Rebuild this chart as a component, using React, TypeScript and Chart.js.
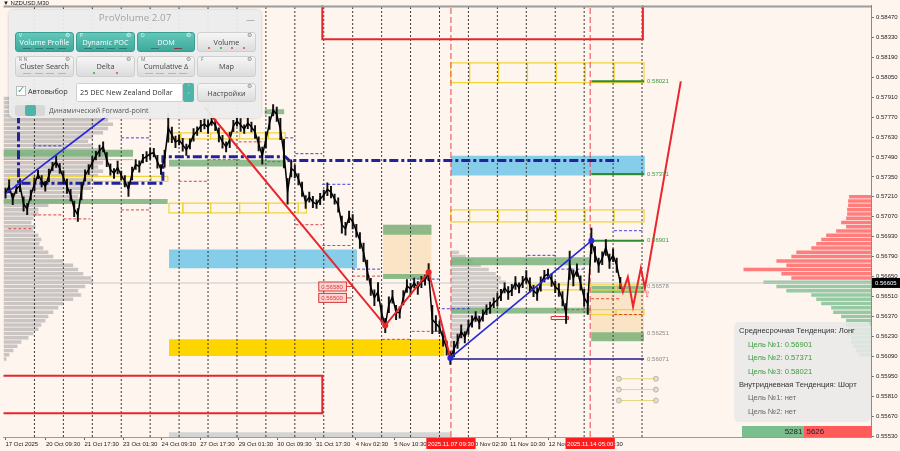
import React, { useEffect, useRef } from "react";
import { Chart, registerables } from "chart.js";

Chart.register(...registerables);

const BG = "#FEF5EF";
const AXIS_FONT = '"Liberation Sans", Arial, sans-serif';
const UI_FONT = '"Open Sans", "Noto Sans", sans-serif';

// ---------- scales ----------
const PRICE_MIN = 0.55523;
const PRICE_MAX = 0.58553;
const DAY_MIN = -0.069; // trading days since 17 Oct 2025 00:00
const DAY_MAX = 29.914;

const yTickValues = [0.5847, 0.5833, 0.5819, 0.5805, 0.5791, 0.5777, 0.5763, 0.5749, 0.5735, 0.5721, 0.5707,
  0.5693, 0.5679, 0.5665, 0.5651, 0.5637, 0.5623, 0.5609, 0.5595, 0.5581, 0.5567, 0.5553];
const xTickDays = [0, 1.396, 2.729, 4.0625, 5.396, 6.729, 8.0625, 9.396, 10.729, 12.104, 13.4375, 14.771, 16.104, 17.4375, 18.771, 20.104];
const xTickLabels = ["17 Oct 2025", "20 Oct 09:30", "21 Oct 17:30", "23 Oct 01:30", "24 Oct 09:30", "27 Oct 17:30",
  "29 Oct 01:30", "30 Oct 09:30", "31 Oct 17:30", "4 Nov 02:30", "5 Nov 10:30", "6 Nov 18:30", "10 Nov 02:30",
  "11 Nov 10:30", "12 Nov 18:30", "14 Nov 02:30"];
const daySeparators = [1, 2, 3, 4, 5, 6, 7, 8, 9, 10, 11, 12, 13, 14, 15, 16, 17, 18, 19, 20, 21, 22];
const markerDays = [15.396, 20.208];
const markerLabels = ["2025.11.07 09:30", "2025.11.14 05:00"];

// ---------- price (3-hour samples) ----------
const PRICE_STEP_DAYS = 0.125;
const closes = [
  0.57236, 0.57284, 0.57194, 0.57263, 0.57291, 0.57159, 0.57125, 0.57222, 0.57298, 0.57367,
  0.57319, 0.57284, 0.57360, 0.57423, 0.57457, 0.57409, 0.57347, 0.57284, 0.57222, 0.57125,
  0.57083, 0.57249, 0.57360, 0.57402, 0.57450, 0.57499, 0.57534, 0.57561, 0.57471, 0.57402,
  0.57374, 0.57416, 0.57360, 0.57319, 0.57263, 0.57374, 0.57437, 0.57423, 0.57478, 0.57492,
  0.57513, 0.57520, 0.57457, 0.57402, 0.57478, 0.57693, 0.57645, 0.57596, 0.57610, 0.57575,
  0.57541, 0.57582, 0.57645, 0.57672, 0.57707, 0.57721, 0.57700, 0.57742, 0.57714, 0.57645,
  0.57596, 0.57561, 0.57610, 0.57707, 0.57742, 0.57714, 0.57686, 0.57728, 0.57700, 0.57665,
  0.57582, 0.57499, 0.57610, 0.57728, 0.57818, 0.57790, 0.57686, 0.57513, 0.57249, 0.57409,
  0.57388, 0.57333, 0.57263, 0.57173, 0.57208, 0.57173, 0.57159, 0.57194, 0.57222, 0.57263,
  0.57243, 0.57194, 0.57152, 0.57014, 0.56986, 0.57069, 0.57035, 0.56972, 0.56903, 0.56820,
  0.56695, 0.56577, 0.56501, 0.56542, 0.56390, 0.56306, 0.56452, 0.56508, 0.56397, 0.56397,
  0.56501, 0.56584, 0.56563, 0.56605, 0.56570, 0.56612, 0.56625, 0.56681, 0.56348, 0.56320,
  0.56293, 0.56216, 0.56147, 0.56078, 0.56140, 0.56195, 0.56265, 0.56223, 0.56293, 0.56334,
  0.56369, 0.56327, 0.56376, 0.56417, 0.56431, 0.56466, 0.56487, 0.56521, 0.56570, 0.56535,
  0.56556, 0.56605, 0.56570, 0.56612, 0.56646, 0.56591, 0.56549, 0.56528, 0.56598, 0.56653,
  0.56667, 0.56625, 0.56577, 0.56556, 0.56494, 0.56390, 0.56729, 0.56639, 0.56695, 0.56605,
  0.56501, 0.56459, 0.56901, 0.56806, 0.56729, 0.56778, 0.56854, 0.56757, 0.56799, 0.56729,
  0.56605,
];
// high-low range of each 3-hour sample, in points (1e-5)
const rangesPts = [
  70, 90, 80, 60, 90, 100, 80, 70, 90, 60, 80, 70, 90, 60, 80, 70, 90, 100, 80, 110,
  90, 120, 80, 70, 90, 60, 80, 70, 100, 80, 70, 90, 60, 80, 100, 90, 70, 80, 60, 70,
  80, 60, 90, 70, 120, 200, 110, 80, 70, 90, 80, 70, 90, 60, 80, 70, 90, 60, 80, 100,
  90, 70, 110, 80, 70, 90, 60, 80, 70, 90, 100, 120, 110, 90, 80, 100, 150, 200, 180, 120,
  90, 80, 100, 90, 70, 80, 60, 80, 70, 90, 80, 70, 100, 120, 90, 80, 100, 90, 110, 130,
  140, 120, 110, 130, 120, 100, 110, 90, 100, 80, 100, 90, 80, 70, 90, 80, 70, 120, 200, 110,
  90, 110, 100, 90, 110, 100, 90, 80, 100, 80, 70, 90, 80, 70, 80, 70, 90, 80, 70, 90,
  80, 90, 70, 80, 90, 100, 80, 90, 100, 80, 70, 90, 80, 90, 100, 140, 200, 110, 90, 100,
  120, 150, 180, 110, 100, 90, 110, 100, 90, 100, 80,
];
const CURRENT_PRICE = 0.56605;

// ---------- drawn lines ----------
const projDays = [21.25, 21.34, 21.51, 21.69, 21.96, 22.1, 23.34];
const projPrices = [0.56605, 0.56542, 0.56646, 0.56438, 0.56709, 0.5657, 0.58021];
const zigzagDays = [6.88, 13.125, 14.625, 15.375];
const zigzagPrices = [0.57839, 0.56306, 0.56681, 0.56078];
const trendLeftDays = [0.03, 3.72];
const trendLeftPrices = [0.57236, 0.57811];
const trendRightDays = [15.375, 20.25];
const trendRightPrices = [0.56078, 0.56901];
const pocDays = [0.45, 0.45, 5.44, 5.44, 9.67, 9.81, 21.2];
const pocPrices = [0.5779, 0.57305, 0.57305, 0.57492, 0.57492, 0.57465, 0.57465];
const targetPrices = [0.58021, 0.57371, 0.56901];
const TARGET_START_DAY = 20.25;
const LEVEL_END_DAY = 22.07;
const grayLevelPrices = [0.56578, 0.56251, 0.56071];
const navyLevel = [15.39, 22.07, 0.56071];
const boxedPrices = [0.5658, 0.565];
const BOXED_DAY = 10.81;
const BOXED_END_DAY = 11.98;
const targetMarkDays = [21.2, 22.48];
const targetMarkPrices = [0.55932, 0.55856, 0.55779];
const pinkLevel = [-0.2, 4.41, 0.57471];

// [startDay, endDay, price]
const blueLevels = [
  [3.99, 4.99, 0.57624], [0.96, 1.93, 0.57568], [9.67, 10.02, 0.57624], [10.02, 10.95, 0.57513],
  [10.95, 11.98, 0.57298], [11.98, 13.01, 0.56702], [14.04, 15.08, 0.56632], [15.08, 16.11, 0.56424],
  [18.04, 19.04, 0.56799], [19.04, 20.07, 0.56702], [21.03, 22.07, 0.56972],
];
const redLevels = [
  [5.99, 6.99, 0.57319], [8.06, 9.05, 0.57596], [0.96, 1.93, 0.57083], [2.0, 2.93, 0.57055],
  [0.1, 0.96, 0.56986], [3.99, 4.99, 0.57118], [6.99, 8.09, 0.57471], [9.05, 10.02, 0.57457],
  [10.02, 10.95, 0.57014], [10.95, 11.98, 0.56868], [11.98, 13.01, 0.56653], [13.01, 14.04, 0.56209],
  [14.04, 15.08, 0.56265], [19.04, 20.07, 0.56417], [20.24, 21.27, 0.56494], [21.03, 22.07, 0.56383],
];

// ---------- zones: [startDay, endDay, topPrice, bottomPrice] ----------
const skyZones = [[5.65, 12.15, 0.5684, 0.56709], [15.39, 22.1, 0.57499, 0.5736]];
const goldZones = [[5.65, 15.18, 0.56209, 0.56092]];
const wheatZones = [[13.05, 14.73, 0.57014, 0.56639], [20.24, 22.07, 0.56556, 0.56209]];
const greenZones = [
  [-0.2, 4.41, 0.57541, 0.57492], [-0.2, 5.61, 0.57194, 0.57159], [5.65, 9.67, 0.57471, 0.57423],
  [8.95, 9.64, 0.57825, 0.5779], [13.05, 14.73, 0.57014, 0.56944], [13.05, 14.73, 0.56667, 0.56632],
  [15.39, 20.24, 0.56785, 0.56729], [15.39, 20.24, 0.56431, 0.5639], [20.24, 22.07, 0.56584, 0.56535],
  [20.24, 22.07, 0.56258, 0.56195],
];
const grayZones = [[5.65, 15.39, 0.55557, 0.55523]];
const redBoxes = [[10.95, 22.03, 0.587, 0.58317], [-0.5, 10.95, 0.55953, 0.55689], [18.86, 19.45, 0.56369, 0.56348]];
// yellow box rows: top, bottom, edges (days)
const yellowRowTops = [0.57354, 0.57659, 0.57166, 0.58151, 0.57118, 0.56591, 0.56417];
const yellowRowBottoms = [0.57319, 0.57617, 0.57097, 0.58012, 0.57034, 0.56556, 0.56383];
const yellowRowEdges = [
  [0.1, 0.96, 2.0, 2.99, 3.99, 5.03, 5.61],
  [5.65, 6.06, 7.09, 8.09, 9.09, 9.67],
  [5.65, 6.13, 7.09, 8.09, 9.09, 10.12, 10.4],
  [15.39, 16.04, 17.04, 18.04, 19.04, 20.03, 21.03, 22.07],
  [15.39, 16.04, 17.04, 18.04, 19.04, 20.03, 21.03, 22.07],
  [18.04, 19.04, 20.24, 21.1, 22.07],
  [20.24, 21.1, 22.07],
];

// ---------- volume profiles (bins of 0.0003) ----------
const BIN = 0.0003;
const leftProfileTop = 0.579;
const leftProfileVol = [15, 30, 50, 70, 95, 105, 110, 105, 100, 90, 85, 90, 95, 100, 105, 100, 95, 100, 95, 90,
  85, 88, 80, 75, 70, 45, 35, 35, 30, 28, 32, 30, 35, 38, 36, 40, 45, 50, 60, 70,
  75, 80, 88, 90, 82, 75, 78, 70, 60, 55, 50, 45, 42, 38, 35, 30, 25, 18, 14, 10, 6, 3];
const rightRedTop = 0.5721;
const rightRedVol = [22, 23, 23, 24, 24, 25, 30, 25, 35, 45, 50, 55, 60, 75, 80, 95, 85, 128, 90, 80];
const rightGreenTop = 0.5661;
const rightGreenVol = [108, 95, 85, 60, 55, 50, 40, 38, 30, 25, 25, 22, 24, 20, 20, 18, 15, 12];
const sessionStartDay = 15.396;
const sessionProfileTop = 0.5682;
const sessionProfileVol = [8, 15, 22, 30, 38, 45, 50, 55, 48, 52, 45, 42, 40, 35, 32, 28, 25, 22, 18, 15, 12, 9, 6, 4, 2];
const SESSION_VOL_TO_DAYS = 1 / 29.05;
const PROFILE_AXIS_MAX = 871;

// ---------- panel data ----------
const midTargets = [0.56901, 0.57371, 0.58021];
const buyVolume = 5281;
const sellVolume = 5626;

const r5 = (v: number) => Math.round(v * 1e5) / 1e5;

function buildDatasets() {
  const ds: any[] = [];
  const base = { pointRadius: 0, pointHoverRadius: 0, tension: 0, xAxisID: "x", yAxisID: "y" };
  const zone = (z: number[], color: string, order: number) =>
    ds.push({ ...base, type: "line", data: [{ x: z[0], y: z[2] }, { x: z[1], y: z[2] }], borderWidth: 0,
      borderColor: "rgba(0,0,0,0)", backgroundColor: color, fill: { value: z[3] }, order });
  const box = (z: number[], color: string, width: number, order: number) =>
    ds.push({ ...base, type: "line", data: [{ x: z[0], y: z[2] }, { x: z[1], y: z[2] }, { x: z[1], y: z[3] },
      { x: z[0], y: z[3] }, { x: z[0], y: z[2] }], borderColor: color, borderWidth: width, fill: false, order });
  const seg = (x0: number, x1: number, p: number, color: string, width: number, dash: number[], order: number) =>
    ds.push({ ...base, type: "line", data: [{ x: x0, y: p }, { x: x1, y: p }], borderColor: color,
      borderWidth: width, borderDash: dash, fill: false, order });
  const path = (xs: number[], ys: number[], color: string, width: number, dash: number[], order: number) =>
    ds.push({ ...base, type: "line", data: xs.map((x, i) => ({ x, y: ys[i] })), borderColor: color,
      borderWidth: width, borderDash: dash, fill: false, order });
  const dots = (xs: number[], ys: number[], color: string, r: number, order: number) =>
    ds.push({ ...base, type: "line", showLine: false, data: xs.map((x, i) => ({ x, y: ys[i] })), pointRadius: r,
      pointBackgroundColor: color, pointBorderWidth: 0, order });
  const profile = (top: number, vols: number[], axis: string, color: string, order: number, start = 0, k = 1) =>
    ds.push({ type: "bar", indexAxis: "y", xAxisID: axis, yAxisID: "y", grouped: false,
      categoryPercentage: 1, barPercentage: 0.82, borderWidth: 0, backgroundColor: color, order,
      data: vols.map((v, i) => ({ x: [start, start + v * k], y: r5(top - i * BIN) })) });

  // background zones
  skyZones.forEach((z) => zone(z, "#86CDEA", 100));
  goldZones.forEach((z) => zone(z, "#FFD500", 100));
  wheatZones.forEach((z) => zone(z, "#FBE4C6", 100));
  grayZones.forEach((z) => zone(z, "#D4D4D4", 100));
  // profiles
  profile(leftProfileTop, leftProfileVol, "xPL", "rgba(150,150,150,0.5)", 96);
  profile(rightRedTop, rightRedVol, "xPR", "rgba(255,105,105,0.85)", 96);
  profile(rightGreenTop, rightGreenVol, "xPR", "rgba(125,190,145,0.8)", 96);
  profile(sessionProfileTop, sessionProfileVol, "x", "rgba(150,150,150,0.45)", 96, sessionStartDay, SESSION_VOL_TO_DAYS);
  // green zones
  greenZones.forEach((z) => zone(z, "rgba(122,178,122,0.85)", 90));
  // yellow boxes
  yellowRowEdges.forEach((edges, r) => {
    for (let i = 0; i < edges.length - 1; i++)
      box([edges[i], edges[i + 1], yellowRowTops[r], yellowRowBottoms[r]], "#F0D53A", 1.2, 85);
  });
  // day separators and marker verticals
  daySeparators.forEach((d) => path([d, d], [PRICE_MIN, PRICE_MAX], "#3a3a3a", 1, [2, 2], 80));
  markerDays.forEach((d) => path([d, d], [PRICE_MIN, PRICE_MAX], "#E8474A", 1, [6, 3], 80));
  // small level dashes
  blueLevels.forEach((l) => seg(l[0], l[1], l[2], "#4040E0", 1, [3, 2], 75));
  redLevels.forEach((l) => seg(l[0], l[1], l[2], "#DD4444", 1, [3, 2], 75));
  seg(pinkLevel[0], pinkLevel[1], pinkLevel[2], "rgba(240,120,120,0.7)", 1, [], 75);
  seg(DAY_MIN, DAY_MAX, CURRENT_PRICE, "#C9C9C9", 1, [], 76);
  // red boxes
  redBoxes.forEach((b, i) => box(b, "#E5262B", i < 2 ? 2 : 1, 70));
  // navy & target lines
  seg(navyLevel[0], navyLevel[1], navyLevel[2], "#1B1B8A", 1.3, [], 70);
  targetPrices.forEach((p) => seg(TARGET_START_DAY, LEVEL_END_DAY, p, "#2E8B2E", 2, [], 70));
  // target marks
  targetMarkPrices.forEach((p) => {
    seg(targetMarkDays[0], targetMarkDays[1], p, "rgba(225,210,110,0.9)", 1, [], 70);
    ds.push({ ...base, type: "line", showLine: false, data: targetMarkDays.map((x) => ({ x, y: p })), pointRadius: 2.5,
      pointBackgroundColor: "rgba(215,215,200,0.7)", pointBorderColor: "#b8b8a0", pointBorderWidth: 1, order: 69 });
  });
  // POC dash-dot
  path(pocDays, pocPrices, "#22229A", 3, [9, 3, 3, 3], 60);
  // price: high-low wicks + close line
  ds.push({ type: "bar", xAxisID: "x", yAxisID: "yW", grouped: false, barThickness: 1.3, borderWidth: 0,
    backgroundColor: "#111", order: 51,
    data: closes.map((c, i) => ({ x: i * PRICE_STEP_DAYS, y: [c - rangesPts[i] / 2e5, c + rangesPts[i] / 2e5] })) });
  ds.push({ ...base, type: "line", data: closes.map((c, i) => ({ x: i * PRICE_STEP_DAYS, y: c })),
    borderColor: "#000000", borderWidth: 1.5, fill: false, order: 50 });
  // trend lines / zigzag
  path(trendLeftDays, trendLeftPrices, "#2828D8", 1.6, [], 40);
  path(trendRightDays, trendRightPrices, "#2828D8", 1.6, [], 40);
  path(zigzagDays, zigzagPrices, "#E8262B", 2, [], 40);
  path(projDays, projPrices, "#E8262B", 2, [], 40);
  dots(zigzagDays.slice(1, 3), zigzagPrices.slice(1, 3), "#E8262B", 3, 39);
  dots(trendRightDays, trendRightPrices, "#2828D8", 3, 39);
  return ds;
}

const overlayPlugin = {
  id: "overlay",
  afterDraw(chart: any) {
    const { ctx, chartArea } = chart;
    const X = chart.scales.x;
    const Y = chart.scales.y;
    ctx.save();
    // top frame
    ctx.strokeStyle = "#9c9c9c";
    ctx.lineWidth = 2;
    ctx.beginPath();
    ctx.moveTo(chartArea.left, chartArea.top + 1);
    ctx.lineTo(chartArea.right, chartArea.top + 1);
    ctx.stroke();
    ctx.font = `6px ${AXIS_FONT}`;
    ctx.textBaseline = "middle";
    ctx.textAlign = "left";
    // level labels
    const lx = X.getPixelForValue(LEVEL_END_DAY) + 3;
    targetPrices.forEach((p) => { ctx.fillStyle = "#3C9A3C"; ctx.fillText(p.toFixed(5), lx, Y.getPixelForValue(p)); });
    grayLevelPrices.forEach((p) => { ctx.fillStyle = "#8a8a8a"; ctx.fillText(p.toFixed(5), lx, Y.getPixelForValue(p)); });
    // boxed price labels
    boxedPrices.forEach((p) => {
      const x0 = X.getPixelForValue(BOXED_DAY);
      const y = Y.getPixelForValue(p);
      const t = p.toFixed(5);
      const w = ctx.measureText(t).width + 6;
      ctx.fillStyle = "rgba(255,205,205,0.85)";
      ctx.fillRect(x0, y - 4.5, w, 9);
      ctx.strokeStyle = "#D23C3C";
      ctx.lineWidth = 1;
      ctx.strokeRect(x0 + 0.5, y - 4.5, w, 9);
      ctx.beginPath();
      ctx.moveTo(x0 + w, y);
      ctx.lineTo(X.getPixelForValue(BOXED_END_DAY), y);
      ctx.stroke();
      ctx.fillStyle = "#D23C3C";
      ctx.fillText(t, x0 + 3, y + 0.5);
    });
    // up arrow near projection
    ctx.fillStyle = "#E8474A";
    ctx.font = `9px "DejaVu Sans"`;
    ctx.fillText("⇧", X.getPixelForValue(22.05), Y.getPixelForValue(0.5652));
    // current price tag
    ctx.font = `6px ${AXIS_FONT}`;
    const cy = Y.getPixelForValue(CURRENT_PRICE);
    ctx.fillStyle = "#000";
    ctx.fillRect(chartArea.right + 1, cy - 5, 28, 10);
    ctx.fillStyle = "#fff";
    ctx.fillText(CURRENT_PRICE.toFixed(5), chartArea.right + 4, cy + 0.5);
    // red date markers on the time axis
    ctx.textAlign = "center";
    markerDays.forEach((d, i) => {
      const px = X.getPixelForValue(d);
      const w = ctx.measureText(markerLabels[i]).width + 3;
      ctx.fillStyle = "#FF1C1C";
      ctx.fillRect(px - w / 2, chartArea.bottom + 1, w, 11);
      ctx.fillStyle = "#fff";
      ctx.fillText(markerLabels[i], px, chartArea.bottom + 7);
    });
    ctx.restore();
  },
};

function PvButton({ b, left, top, w, h }: any) {
  const a = b.active;
  return (
    <div style={{ position: "absolute", left, top, width: w, height: h, boxSizing: "border-box", borderRadius: 3,
      background: a ? "linear-gradient(#62c8ba,#3ea99b)" : "linear-gradient(#f6f6f6,#dcdcdc)",
      border: a ? "1px solid #3a9f92" : "1px solid #cfcfcf" }}>
      <span style={{ position: "absolute", left: 3, top: -1, fontSize: 5, color: a ? "#e8fffb" : "#777" }}>{b.key}</span>
      <span style={{ position: "absolute", right: 3, top: -2, fontSize: 6, color: a ? "#e0f5f2" : "#888" }}>⚙</span>
      <div style={{ position: "absolute", left: 0, right: 0, top: 4, textAlign: "center", fontSize: 7.3,
        color: a ? "#fff" : "#444", whiteSpace: "nowrap", lineHeight: "10px" }}>{b.label}</div>
      <div style={{ position: "absolute", left: 5, right: 5, bottom: 2, display: "flex", justifyContent: "space-around" }}>
        {b.marks.map((c: string, i: number) => (
          <span key={i} style={{ width: b.dots ? 2 : 8, height: b.dots ? 2 : 1.3, background: c, borderRadius: b.dots ? 1 : 0 }} />
        ))}
      </div>
    </div>
  );
}

const pvRows = [
  [
    { label: "Volume Profile", key: "V", active: true, marks: ["#2b7e74", "#2b7e74", "#2b7e74", "#2b7e74"] },
    { label: "Dynamic POC", key: "P", active: true, marks: ["#2b7e74", "#2b7e74", "#2b7e74", "#2b7e74"] },
    { label: "DOM", key: "D", active: true, marks: ["#2b7e74", "#8a3a3a"] },
    { label: "Volume", key: "", active: false, dots: true, marks: ["#d44", "#3a3", "#d44", "#d44"] },
  ],
  [
    { label: "Cluster Search", key: "R  N", active: false, marks: ["#e9a0a0", "#e9a0a0", "#e9a0a0", "#e9a0a0"] },
    { label: "Delta", key: "", active: false, dots: true, marks: ["#3a3", "#d44"] },
    { label: "Cumulative Δ", key: "M", active: false, marks: ["#9c9", "#9c9", "#e9a0a0", "#e9a0a0"] },
    { label: "Map", key: "F", active: false, marks: [] },
  ],
];
const pvColLeft = [6, 67, 128, 188];
const pvColWidth = [59, 59, 58, 59];

export default function App() {
  const ref = useRef<HTMLCanvasElement>(null);
  useEffect(() => {
    document.body.style.margin = "0";
    const chart = new Chart(ref.current as HTMLCanvasElement, {
      type: "line",
      data: { datasets: buildDatasets() },
      options: {
        responsive: false,
        animation: false,
        events: [],
        layout: { padding: 0 },
        plugins: { legend: { display: false }, tooltip: { enabled: false } },
        scales: {
          x: {
            type: "linear", position: "bottom", min: DAY_MIN, max: DAY_MAX, offset: false,
            afterBuildTicks: (s: any) => { s.ticks = xTickDays.map((v) => ({ value: v })); },
            afterFit: (s: any) => { s.height = 14; },
            ticks: { autoSkip: false, maxRotation: 0, minRotation: 0, align: "start", padding: 1,
              font: { size: 6, family: AXIS_FONT }, color: "#222",
              callback: (_v: any, i: number) => xTickLabels[i] },
            grid: { drawOnChartArea: false, drawTicks: true, tickLength: 3, color: "#666", offset: false },
            border: { color: "#9a9a9a" },
          },
          y: {
            type: "linear", position: "right", min: PRICE_MIN, max: PRICE_MAX, offset: false,
            afterBuildTicks: (s: any) => { s.ticks = yTickValues.map((v) => ({ value: v })); },
            afterFit: (s: any) => { s.width = 29; },
            ticks: { autoSkip: false, padding: 2, font: { size: 6, family: AXIS_FONT }, color: "#222",
              callback: (v: any) => Number(v).toFixed(5) },
            grid: { drawOnChartArea: false, tickLength: 3, color: "#777", offset: false },
            border: { color: "#8a8a8a" },
          },
          yW: { type: "linear", position: "right", display: false, min: PRICE_MIN, max: PRICE_MAX, offset: false, beginAtZero: false },
          xPL: { type: "linear", position: "bottom", display: false, min: 0, max: PROFILE_AXIS_MAX },
          xPR: { type: "linear", position: "bottom", display: false, min: 0, max: PROFILE_AXIS_MAX, reverse: true },
        },
      } as any,
      plugins: [overlayPlugin as any],
    });
    return () => chart.destroy();
  }, []);

  const infoLines = [
    { text: "Среднесрочная Тенденция: Лонг", color: "#333", indent: 5 },
    ...midTargets.map((v, i) => ({ text: `Цель №${i + 1}: ${v.toFixed(5)}`, color: "#3C9A3C", indent: 14 })),
    { text: "Внутридневная Тенденция: Шорт", color: "#333", indent: 5 },
    { text: "Цель №1: нет", color: "#666", indent: 14 },
    { text: "Цель №2: нет", color: "#666", indent: 14 },
  ];
  const infoTops = [4, 18, 31, 45, 58, 71, 85];
  const buyW = (129 * buyVolume) / (buyVolume + sellVolume);

  return (
    <div style={{ position: "relative", width: 900, height: 451, overflow: "hidden", background: BG }}>
      <canvas ref={ref} width={900} height={451} style={{ display: "block" }} />
      <div style={{ position: "absolute", left: 3, top: 0, fontSize: 6, fontFamily: AXIS_FONT, color: "#222" }}>▼ NZDUSD,M30</div>

      {/* ProVolume panel */}
      <div style={{ position: "absolute", left: 9, top: 10, width: 252, height: 108, borderRadius: 5,
        background: "rgba(236,236,236,0.95)", boxShadow: "0 0 3px rgba(0,0,0,0.25)", fontFamily: UI_FONT }}>
        <div style={{ position: "absolute", left: 0, right: 0, top: 1, textAlign: "center", fontSize: 9.8, color: "#a3a3a3" }}>ProVolume 2.07</div>
        <div style={{ position: "absolute", right: 6, top: 3, fontSize: 9, color: "#999" }}>—</div>
        {pvRows.map((row, r) =>
          row.map((b, c) => (
            <PvButton key={`${r}-${c}`} b={b} left={pvColLeft[c]} top={r === 0 ? 22 : 46} w={pvColWidth[c]} h={r === 0 ? 20 : 21} />
          ))
        )}
        <div style={{ position: "absolute", left: 7, top: 76, width: 8, height: 8, background: "#fff", border: "1px solid #bbb" }}>
          <span style={{ position: "absolute", left: 0, top: -5, fontSize: 10, color: "#3aa99b" }}>✓</span>
        </div>
        <div style={{ position: "absolute", left: 19, top: 76, fontSize: 7.3, color: "#333" }}>Автовыбор</div>
        <div style={{ position: "absolute", left: 67, top: 73, width: 107, height: 19, boxSizing: "border-box", background: "#fff",
          border: "1px solid #d0d0d0", borderRadius: 2, fontSize: 7.3, color: "#333", lineHeight: "17px", paddingLeft: 3, whiteSpace: "nowrap" }}>
          25 DEC New Zealand Dollar
        </div>
        <div style={{ position: "absolute", left: 174, top: 73, width: 11, height: 19, background: "#4fb5a8", borderRadius: 2,
          color: "#fff", fontSize: 6, textAlign: "center", lineHeight: "8px" }}>˄<br />˅</div>
        <PvButton b={{ label: "Настройки", key: "", active: false, marks: [] }} left={188} top={73} w={59} h={19} />
        <div style={{ position: "absolute", left: 6, top: 95, width: 30, height: 11, background: "#d8d8d8", borderRadius: 2 }}>
          <div style={{ position: "absolute", left: 10, top: 0, width: 11, height: 11, background: "#4fb5a8", borderRadius: 2 }} />
        </div>
        <div style={{ position: "absolute", left: 40, top: 96, fontSize: 7, color: "#555" }}>Динамический Forward-point</div>
      </div>

      {/* Trend panel */}
      <div style={{ position: "absolute", left: 734, top: 322, width: 137, height: 100, borderRadius: 5,
        background: "rgba(233,233,233,0.86)", fontFamily: AXIS_FONT }}>
        {infoLines.map((l, i) => (
          <div key={i} style={{ position: "absolute", left: l.indent, top: infoTops[i], fontSize: 7.6, lineHeight: "10px",
            color: l.color, whiteSpace: "nowrap" }}>{l.text}</div>
        ))}
      </div>
      <div style={{ position: "absolute", left: 742, top: 426, width: 129, height: 11, display: "flex", fontFamily: AXIS_FONT, fontSize: 8 }}>
        <div style={{ width: buyW, background: "#7CBF8E", color: "#222", textAlign: "right", paddingRight: 2, boxSizing: "border-box", lineHeight: "11px" }}>{buyVolume}</div>
        <div style={{ flex: 1, background: "#FF5B5B", color: "#222", paddingLeft: 2, lineHeight: "11px" }}>{sellVolume}</div>
      </div>
    </div>
  );
}
